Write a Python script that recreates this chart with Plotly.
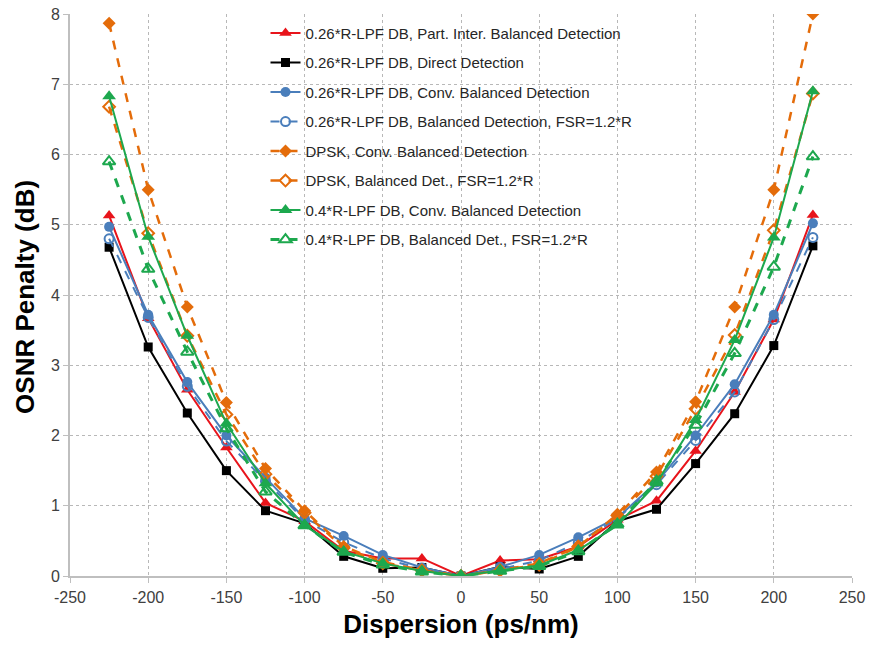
import plotly.graph_objects as go

dispersion = [-225, -200, -175, -150, -125, -100, -75, -50, -25, 0, 25, 50, 75, 100, 125, 150, 175, 200, 225]
x_ticks = [-250, -200, -150, -100, -50, 0, 50, 100, 150, 200, 250]
x_tick_labels = ["-250", "-200", "-150", "-100", "-50", "0", "50", "100", "150", "200", "250"]

pib_026 = [5.13, 3.67, 2.65, 1.83, 1.04, 0.78, 0.36, 0.25, 0.25, 0.0, 0.22, 0.24, 0.42, 0.80, 1.07, 1.78, 2.62, 3.65, 5.14]
dd_026 = [4.68, 3.26, 2.32, 1.50, 0.93, 0.75, 0.28, 0.11, 0.12, 0.0, 0.13, 0.10, 0.28, 0.78, 0.95, 1.60, 2.31, 3.28, 4.70]
cbd_026 = [4.97, 3.72, 2.76, 2.00, 1.40, 0.82, 0.57, 0.30, 0.12, 0.0, 0.13, 0.30, 0.55, 0.83, 1.33, 2.00, 2.73, 3.72, 5.02]
bd_fsr_026 = [4.80, 3.68, 2.70, 1.92, 1.35, 0.80, 0.48, 0.25, 0.10, 0.0, 0.10, 0.22, 0.48, 0.82, 1.30, 1.93, 2.62, 3.65, 4.82]
dpsk_cbd = [7.87, 5.50, 3.83, 2.47, 1.53, 0.93, 0.42, 0.20, 0.08, 0.0, 0.08, 0.18, 0.42, 0.88, 1.48, 2.48, 3.83, 5.50, 8.00]
dpsk_bd_fsr = [6.68, 4.88, 3.42, 2.30, 1.45, 0.90, 0.40, 0.18, 0.08, 0.0, 0.08, 0.16, 0.42, 0.86, 1.42, 2.38, 3.43, 4.92, 6.87]
cbd_04 = [6.83, 4.83, 3.42, 2.17, 1.32, 0.72, 0.35, 0.18, 0.07, 0.0, 0.08, 0.15, 0.37, 0.72, 1.32, 2.22, 3.36, 4.82, 6.90]
bd_fsr_04 = [5.90, 4.37, 3.19, 2.10, 1.20, 0.72, 0.34, 0.16, 0.06, 0.0, 0.07, 0.14, 0.35, 0.74, 1.35, 2.15, 3.17, 4.40, 5.97]

names = [
    "0.26*R-LPF DB, Part. Inter. Balanced Detection",
    "0.26*R-LPF DB, Direct Detection",
    "0.26*R-LPF DB, Conv. Balanced Detection",
    "0.26*R-LPF DB, Balanced Detection, FSR=1.2*R",
    "DPSK, Conv. Balanced Detection",
    "DPSK, Balanced Det., FSR=1.2*R",
    "0.4*R-LPF DB, Conv. Balanced Detection",
    "0.4*R-LPF DB, Balanced Det., FSR=1.2*R",
]
y_title = "OSNR Penalty (dB)"
x_title = "Dispersion (ps/nm)"

RED = "#E8141B"
BLACK = "#000000"
BLUE = "#4A7EBB"
ORANGE = "#E46C0A"
GREEN = "#1DA84E"

styles = [
    (pib_026, RED, "solid", 2, "triangle-up", 11, True),
    (dd_026, BLACK, "solid", 2, "square", 9, True),
    (cbd_026, BLUE, "solid", 2, "circle", 10, True),
    (bd_fsr_026, BLUE, "dash", 2, "circle-open", 9, False),
    (dpsk_cbd, ORANGE, "dash", 2.5, "diamond", 10, True),
    (dpsk_bd_fsr, ORANGE, "dash", 2.5, "diamond-open", 9, False),
    (cbd_04, GREEN, "solid", 2, "triangle-up", 12, True),
    (bd_fsr_04, GREEN, "dash", 3, "triangle-up-open", 11, False),
]

fig = go.Figure()
for i, (vals, color, dash, lw, sym, ms, filled) in enumerate(styles):
    fig.add_trace(go.Scatter(
        x=dispersion, y=vals, name=names[i], mode="lines+markers",
        legendgroup=f"g{i}",
        line=dict(color=color, width=lw, dash=dash),
        marker=dict(symbol=sym, size=ms, color=color,
                    line=dict(color=color, width=2 if not filled else 0)),
    ))

grid = "#B8B8B8"
fig.update_layout(
    width=871, height=646,
    margin=dict(l=70, r=19, t=14, b=70),
    paper_bgcolor="white", plot_bgcolor="white",
    font=dict(family="Arial, Liberation Sans, sans-serif", color="#262626"),
    showlegend=True,
    legend=dict(
        x=0.25, y=0.995, xanchor="left", yanchor="top",
        bgcolor="rgba(0,0,0,0)", borderwidth=0,
        font=dict(size=15, color="#262626"),
        traceorder="grouped", tracegroupgap=7,
    ),
    xaxis=dict(
        range=[-250, 250], tickmode="array", tickvals=x_ticks, ticktext=x_tick_labels,
        automargin=False,
        showgrid=True, gridcolor=grid, griddash="dot", gridwidth=1,
        showline=True, linecolor="#BFBFBF", linewidth=2,
        ticks="outside", ticklen=5, tickcolor="#BFBFBF",
        ticklabelstandoff=1,
        zeroline=False,
        tickfont=dict(size=16, color="#404040"),
        title=dict(text="<b>" + x_title + "</b>", font=dict(size=26, color="#000000"), standoff=10),
    ),
    yaxis=dict(
        range=[0, 8], dtick=1, automargin=False,
        showgrid=True, gridcolor=grid, griddash="dot", gridwidth=1,
        showline=True, linecolor="#BFBFBF", linewidth=2,
        ticks="outside", ticklen=5, tickcolor="#BFBFBF",
        zeroline=False,
        tickfont=dict(size=16, color="#404040"),
    ),
    annotations=[dict(
        text="<b>" + y_title + "</b>", xref="paper", yref="paper",
        x=-0.0585, y=0.497, xanchor="center", yanchor="middle",
        textangle=-90, showarrow=False,
        font=dict(size=26, color="#000000"),
    )],
)

fig.write_html("out.html", config={"displayModeBar": False},
               post_script="document.body.style.margin='0';")
